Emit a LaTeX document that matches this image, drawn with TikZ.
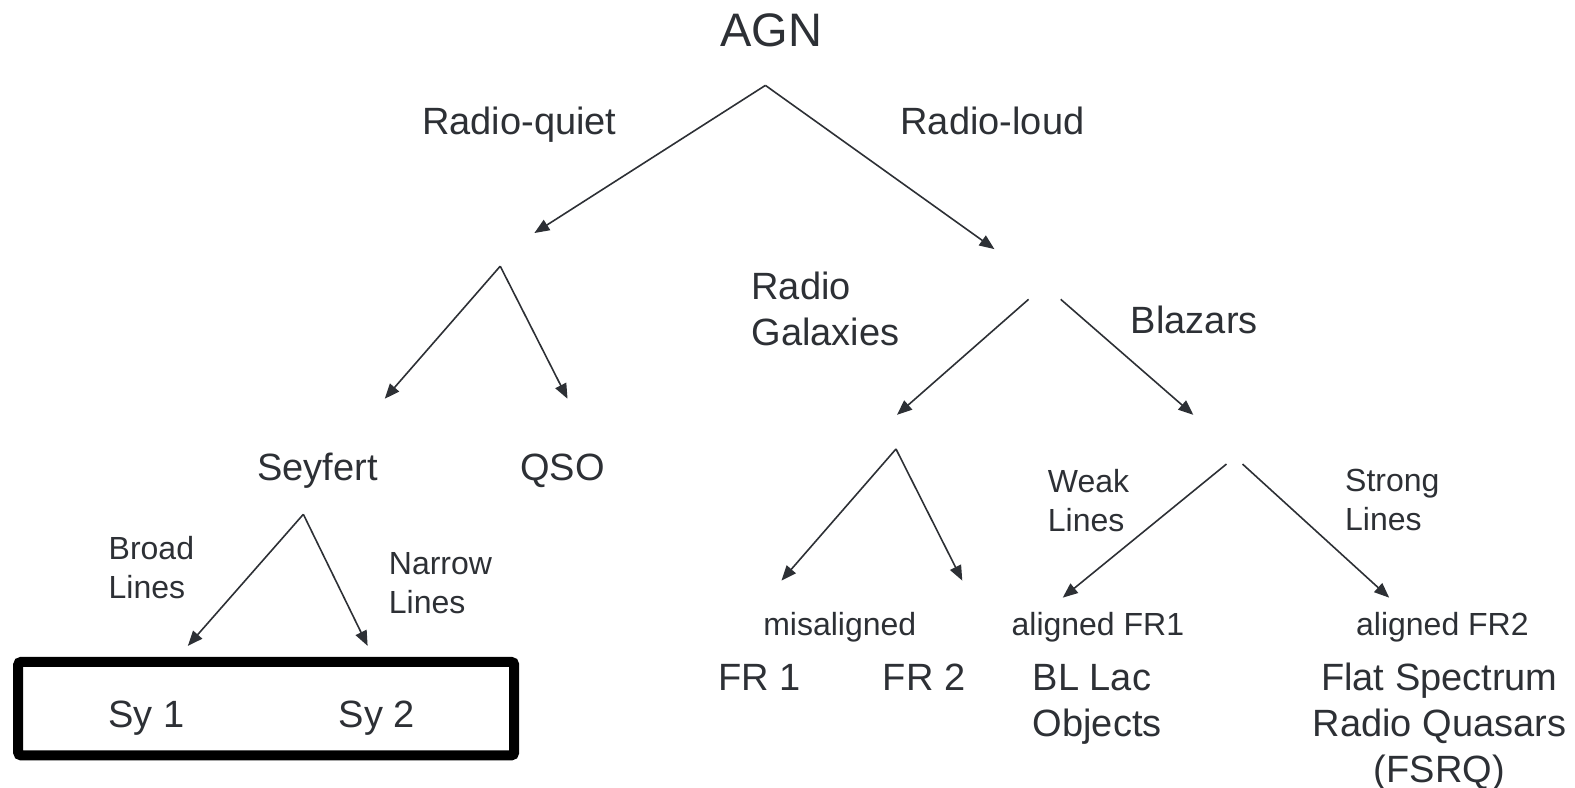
\documentclass[tikz,border=0pt]{standalone}
\usepackage{fontspec}
\setmainfont{Liberation Sans}
\usetikzlibrary{arrows.meta}

\definecolor{ink}{RGB}{45,48,53}

\tikzset{
  branch/.style={-{Triangle[length=15pt,width=12pt]},line width=1.6pt,draw=ink},
  title/.style={text=ink,inner sep=0pt,font=\fontsize{47}{56}\selectfont},
  big/.style={text=ink,inner sep=0pt,align=left,font=\fontsize{38}{46}\selectfont},
  small/.style={text=ink,inner sep=0pt,align=left,font=\fontsize{32}{39}\selectfont},
}

\begin{document}
\begin{tikzpicture}[x=1.00446pt,y=-1.00446pt]
        \useasboundingbox (0,0) rectangle (1568,784);
        % labels
        \node[title] (agn) at (768,30) {AGN};
        \node[big] (quiet) at (517,124) {Radio-quiet};
        \node[big] (loud) at (988,120) {Radio-loud};
        \node[big,anchor=west] (galaxies) at (748,308) {Radio\\Galaxies};
        \node[big] (blazars) at (1189,318) {Blazars};
        \node[big] (seyfert) at (316,469) {Seyfert};
        \node[big] (qso) at (560,469) {QSO};
        \node[small,anchor=west] (broad) at (108,565) {Broad\\Lines};
        \node[small,anchor=west] (narrow) at (387,581) {Narrow\\Lines};
        \node[big] (sy1) at (146,715) {Sy 1};
        \node[big] (sy2) at (375,715) {Sy 2};
        \node[draw=black,line width=10pt,rounded corners=3pt,minimum width=496pt,minimum height=93.5pt] (sybox) at (265,705.5) {};
        \node[small] (misaligned) at (836,624) {misaligned};
        \node[big] (fr1) at (756,674) {FR 1};
        \node[big] (fr2) at (920,674) {FR 2};
        \node[small,anchor=west] (weak) at (1043,498) {Weak\\Lines};
        \node[small,anchor=west] (strong) at (1339,498) {Strong\\Lines};
        \node[small] (alfr1) at (1093,624) {aligned FR1};
        \node[big,anchor=west] (bllac) at (1028,701) {BL Lac\\Objects};
        \node[small] (alfr2) at (1436,624) {aligned FR2};
        \node[big,align=center] (fsrq) at (1433,723) {Flat Spectrum\\Radio Quasars\\(FSRQ)};
        % fork points and tips
        \coordinate (agnfork) at (762,85);
        \coordinate (quiettip) at (532,232);
        \coordinate (loudtip) at (990,248);
        \coordinate (quietfork) at (498,265);
        \coordinate (seyferttip) at (383,397);
        \coordinate (qsotip) at (565,397);
        \coordinate (galfork) at (1024,298);
        \coordinate (blzfork) at (1056,298);
        \coordinate (galtip) at (893,413);
        \coordinate (blztip) at (1188,413);
        \coordinate (frfork) at (892,447);
        \coordinate (fr1tip) at (778,578);
        \coordinate (fr2tip) at (958,578);
        \coordinate (weakfork) at (1221,462);
        \coordinate (strongfork) at (1237,462);
        \coordinate (bltip) at (1058,595);
        \coordinate (fsrqtip) at (1383,595);
        \coordinate (syfork) at (302,512);
        \coordinate (sy1tip) at (187,643);
        \coordinate (sy2tip) at (366,643);
        % arrows
        \draw[branch] (agnfork) -- (quiettip);
        \draw[branch] (agnfork) -- (loudtip);
        \draw[branch] (quietfork) -- (seyferttip);
        \draw[branch] (quietfork) -- (qsotip);
        \draw[branch] (galfork) -- (galtip);
        \draw[branch] (blzfork) -- (blztip);
        \draw[branch] (frfork) -- (fr1tip);
        \draw[branch] (frfork) -- (fr2tip);
        \draw[branch] (weakfork) -- (bltip);
        \draw[branch] (strongfork) -- (fsrqtip);
        \draw[branch] (syfork) -- (sy1tip);
        \draw[branch] (syfork) -- (sy2tip);
\end{tikzpicture}
\end{document}
